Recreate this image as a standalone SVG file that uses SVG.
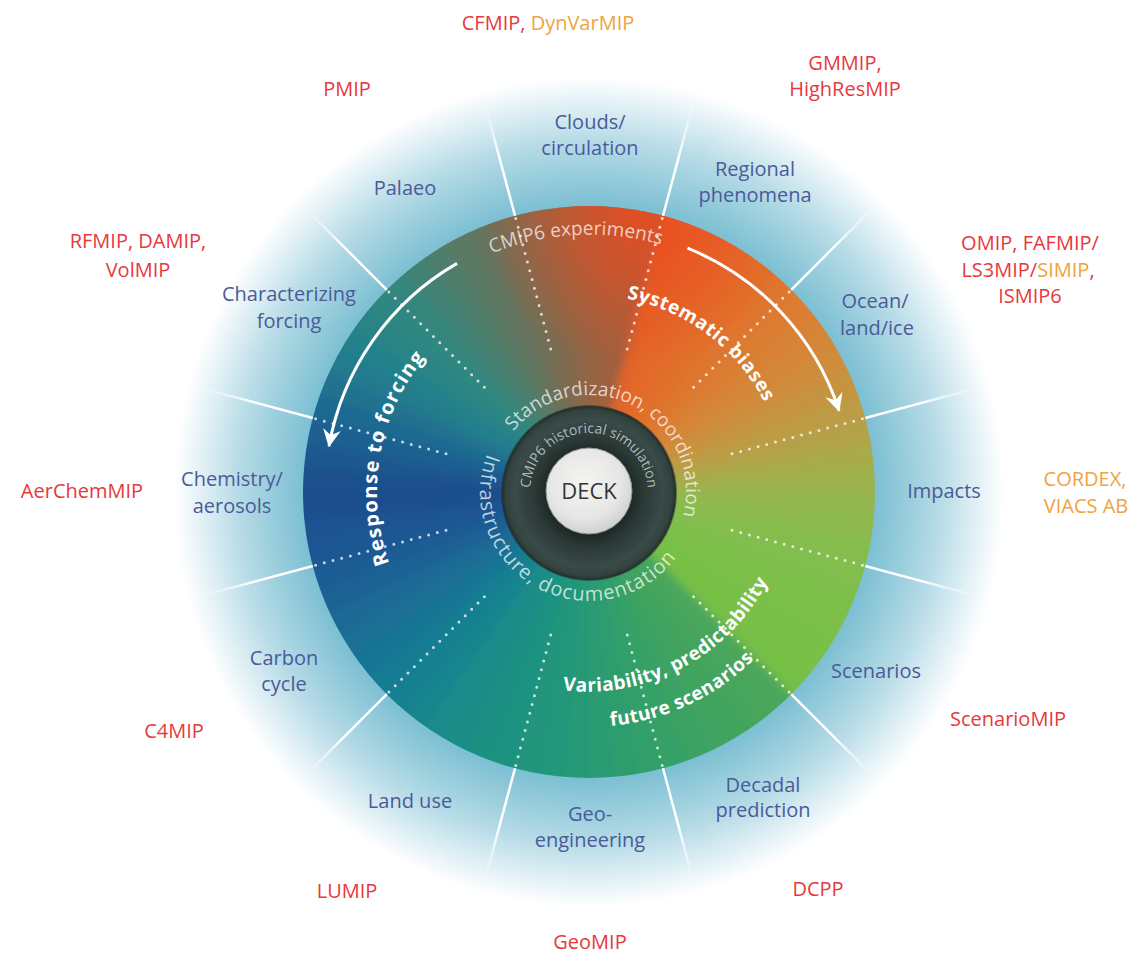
<svg xmlns="http://www.w3.org/2000/svg" width="1139" height="962" viewBox="0 0 1139 962">
<style>
text{font-family:"Open Sans","Liberation Sans",sans-serif}
.lbl{font-size:20px;fill:#4b5a99;text-anchor:middle}
.mip{font-size:20px;fill:#e8383d;text-anchor:middle}
.org{fill:#f0a340}
.big{font-size:19px;font-weight:700;fill:#ffffff}
.inner{font-size:19px;fill:#ffffff;fill-opacity:0.72}
.div{stroke:#ffffff;stroke-width:2.5;fill:none}
.dot{stroke:#ffffff;stroke-opacity:0.75;stroke-width:3;stroke-dasharray:0 9;stroke-linecap:round;fill:none}
.arr{stroke:#ffffff;stroke-width:3;fill:none;marker-end:url(#ah)}
</style>
<defs>
<radialGradient id="ring" gradientUnits="userSpaceOnUse" cx="589" cy="492" r="430">
<stop offset="0" stop-color="#7cbfd3"/>
<stop offset="0.665" stop-color="#7cbfd3"/>
<stop offset="0.74" stop-color="#98cddc"/>
<stop offset="0.82" stop-color="#b8dce7"/>
<stop offset="0.88" stop-color="#d6ebf2"/>
<stop offset="0.93" stop-color="#eef7fa"/>
<stop offset="0.965" stop-color="#ffffff"/>
<stop offset="1" stop-color="#ffffff"/>
</radialGradient>
<radialGradient id="fadeg" gradientUnits="userSpaceOnUse" cx="589" cy="492" r="430">
<stop offset="0" stop-color="#ffffff"/>
<stop offset="0.8" stop-color="#ffffff"/>
<stop offset="0.95" stop-color="#000000"/>
<stop offset="1" stop-color="#000000"/>
</radialGradient>
<mask id="fade" maskUnits="userSpaceOnUse" x="0" y="0" width="1139" height="962">
<rect width="1139" height="962" fill="url(#fadeg)"/>
</mask>
<radialGradient id="glow" gradientUnits="userSpaceOnUse" cx="640" cy="208" r="160">
<stop offset="0" stop-color="#ee4a1e" stop-opacity="0.85"/>
<stop offset="0.5" stop-color="#ee4a1e" stop-opacity="0.45"/>
<stop offset="1" stop-color="#ee4a1e" stop-opacity="0"/>
</radialGradient>
<radialGradient id="dark" cx="0.5" cy="0.5" r="0.5">
<stop offset="0" stop-color="#1a2624"/>
<stop offset="0.48" stop-color="#1c2826"/>
<stop offset="0.62" stop-color="#2a3836"/>
<stop offset="0.85" stop-color="#3a4a48"/>
<stop offset="0.95" stop-color="#33433f"/>
<stop offset="1" stop-color="#25322e"/>
</radialGradient>
<radialGradient id="deck" cx="0.45" cy="0.4" r="0.6">
<stop offset="0" stop-color="#f4f4f2"/>
<stop offset="0.7" stop-color="#e6e7e5"/>
<stop offset="1" stop-color="#cfd2d0"/>
</radialGradient>
<filter id="soft" x="150" y="50" width="880" height="880" filterUnits="userSpaceOnUse">
<feGaussianBlur stdDeviation="5"/>
</filter>
<clipPath id="discclip"><circle cx="589" cy="492" r="286"/></clipPath>
<path id="w" d="M0 0 L0 -300 A300 300 0 0 1 29.3 -298.6 Z"/>
<marker id="ah" markerUnits="userSpaceOnUse" viewBox="-18 -10 20 20" refX="0" refY="0" markerWidth="20" markerHeight="20" orient="auto">
<path d="M1 0 L-17 -9 L-11 0 L-17 9 Z" fill="#ffffff"/>
</marker>
<path id="pCmip" d="M327.4 505.7 A262 262 0 0 1 850.6 478.3"/>
<path id="pSys" d="M431.7 373.4 A197 197 0 0 1 746.3 610.6"/>
<path id="pResp" d="M552.2 700.8 A212 212 0 0 1 625.8 283.2"/>
<path id="pVar" d="M409.8 587.3 A203 203 0 0 0 768.2 396.7"/>
<path id="pFut" d="M376 591.3 A235 235 0 0 0 802 392.7"/>
<path id="pStd" d="M502.2 448.7 A97 97 0 0 1 675.8 535.3"/>
<path id="pInf" d="M493.2 440 A109 109 0 0 0 684.8 544"/>
<path id="pHist" d="M589 551 A59 59 0 0 1 589 433 A59 59 0 0 1 589 551"/>
</defs>

<rect width="1139" height="962" fill="#ffffff"/>
<circle id="outer-ring" cx="589" cy="492" r="430" fill="url(#ring)"/>

<g id="disc" clip-path="url(#discclip)">
<g filter="url(#soft)">
<circle cx="589" cy="492" r="300" fill="#2a9a74"/>
<g transform="translate(589 492)">
<use href="#w" transform="rotate(0)" fill="#976343"/>
<use href="#w" transform="rotate(5)" fill="#9c6240"/>
<use href="#w" transform="rotate(10)" fill="#a1613d"/>
<use href="#w" transform="rotate(15)" fill="#e26428"/>
<use href="#w" transform="rotate(20)" fill="#e26729"/>
<use href="#w" transform="rotate(25)" fill="#e26a2a"/>
<use href="#w" transform="rotate(30)" fill="#e16e2b"/>
<use href="#w" transform="rotate(35)" fill="#e0722c"/>
<use href="#w" transform="rotate(40)" fill="#df762d"/>
<use href="#w" transform="rotate(45)" fill="#dc7b30"/>
<use href="#w" transform="rotate(50)" fill="#d88134"/>
<use href="#w" transform="rotate(55)" fill="#d48738"/>
<use href="#w" transform="rotate(60)" fill="#ce8d3c"/>
<use href="#w" transform="rotate(65)" fill="#c69440"/>
<use href="#w" transform="rotate(70)" fill="#be9b44"/>
<use href="#w" transform="rotate(75)" fill="#b4a248"/>
<use href="#w" transform="rotate(80)" fill="#a8aa4b"/>
<use href="#w" transform="rotate(85)" fill="#9cb24e"/>
<use href="#w" transform="rotate(90)" fill="#93b750"/>
<use href="#w" transform="rotate(95)" fill="#8cba4f"/>
<use href="#w" transform="rotate(100)" fill="#85bd4e"/>
<use href="#w" transform="rotate(105)" fill="#81be4d"/>
<use href="#w" transform="rotate(110)" fill="#7ebf4b"/>
<use href="#w" transform="rotate(115)" fill="#7bc049"/>
<use href="#w" transform="rotate(120)" fill="#79c048"/>
<use href="#w" transform="rotate(125)" fill="#78c047"/>
<use href="#w" transform="rotate(130)" fill="#77c046"/>
<use href="#w" transform="rotate(135)" fill="#49a65b"/>
<use href="#w" transform="rotate(140)" fill="#46a55c"/>
<use href="#w" transform="rotate(145)" fill="#43a45d"/>
<use href="#w" transform="rotate(150)" fill="#40a360"/>
<use href="#w" transform="rotate(155)" fill="#3ba263"/>
<use href="#w" transform="rotate(160)" fill="#36a166"/>
<use href="#w" transform="rotate(165)" fill="#329f6a"/>
<use href="#w" transform="rotate(170)" fill="#2e9d6e"/>
<use href="#w" transform="rotate(175)" fill="#2a9b72"/>
<use href="#w" transform="rotate(180)" fill="#269976"/>
<use href="#w" transform="rotate(185)" fill="#239779"/>
<use href="#w" transform="rotate(190)" fill="#20957c"/>
<use href="#w" transform="rotate(195)" fill="#1d9380"/>
<use href="#w" transform="rotate(200)" fill="#1c9083"/>
<use href="#w" transform="rotate(205)" fill="#1b8d86"/>
<use href="#w" transform="rotate(210)" fill="#1a8a8a"/>
<use href="#w" transform="rotate(215)" fill="#19858d"/>
<use href="#w" transform="rotate(220)" fill="#188090"/>
<use href="#w" transform="rotate(225)" fill="#187b93"/>
<use href="#w" transform="rotate(230)" fill="#197594"/>
<use href="#w" transform="rotate(235)" fill="#1a6f95"/>
<use href="#w" transform="rotate(240)" fill="#1a6996"/>
<use href="#w" transform="rotate(245)" fill="#1b6295"/>
<use href="#w" transform="rotate(250)" fill="#1c5b94"/>
<use href="#w" transform="rotate(255)" fill="#1c5693"/>
<use href="#w" transform="rotate(260)" fill="#1d5290"/>
<use href="#w" transform="rotate(265)" fill="#1e4e8d"/>
<use href="#w" transform="rotate(270)" fill="#1e508d"/>
<use href="#w" transform="rotate(275)" fill="#1e588f"/>
<use href="#w" transform="rotate(280)" fill="#1e6091"/>
<use href="#w" transform="rotate(285)" fill="#1f6991"/>
<use href="#w" transform="rotate(290)" fill="#20728f"/>
<use href="#w" transform="rotate(295)" fill="#217b8d"/>
<use href="#w" transform="rotate(300)" fill="#24818a"/>
<use href="#w" transform="rotate(305)" fill="#298486"/>
<use href="#w" transform="rotate(310)" fill="#2e8782"/>
<use href="#w" transform="rotate(315)" fill="#36867c"/>
<use href="#w" transform="rotate(320)" fill="#428274"/>
<use href="#w" transform="rotate(325)" fill="#4e7e6c"/>
<use href="#w" transform="rotate(330)" fill="#5a7a65"/>
<use href="#w" transform="rotate(335)" fill="#65755e"/>
<use href="#w" transform="rotate(340)" fill="#707057"/>
<use href="#w" transform="rotate(345)" fill="#7b6c51"/>
<use href="#w" transform="rotate(350)" fill="#85694c"/>
<use href="#w" transform="rotate(355)" fill="#8f6647"/>
</g>
</g>
<circle cx="640" cy="208" r="160" fill="url(#glow)"/>
</g>

<g id="connectors">
<g mask="url(#fade)">
<line class="div" x1="663" y1="215.8" x2="696.4" y2="91.1"/>
<line class="div" x1="791.2" y1="289.8" x2="882.4" y2="198.6"/>
<line class="div" x1="865.2" y1="418" x2="989.9" y2="384.6"/>
<line class="div" x1="865.2" y1="566" x2="989.9" y2="599.4"/>
<line class="div" x1="791.2" y1="694.2" x2="882.4" y2="785.4"/>
<line class="div" x1="663" y1="768.2" x2="696.4" y2="892.9"/>
<line class="div" x1="515" y1="768.2" x2="481.6" y2="892.9"/>
<line class="div" x1="386.8" y1="694.2" x2="295.6" y2="785.4"/>
<line class="div" x1="312.8" y1="566" x2="188.1" y2="599.4"/>
<line class="div" x1="312.8" y1="418" x2="188.1" y2="384.6"/>
<line class="div" x1="386.8" y1="289.8" x2="295.6" y2="198.6"/>
<line class="div" x1="515" y1="215.8" x2="481.6" y2="91.1"/>
</g>
<line class="dot" x1="662.2" y1="218.6" x2="625.2" y2="356.8"/>
<line class="dot" x1="789.1" y1="291.9" x2="688" y2="393"/>
<line class="dot" x1="862.4" y1="418.8" x2="724.2" y2="455.8"/>
<line class="dot" x1="862.4" y1="565.2" x2="724.2" y2="528.2"/>
<line class="dot" x1="789.1" y1="692.1" x2="688" y2="591"/>
<line class="dot" x1="662.2" y1="765.4" x2="625.2" y2="627.2"/>
<line class="dot" x1="515.8" y1="765.4" x2="552.8" y2="627.2"/>
<line class="dot" x1="388.9" y1="692.1" x2="490" y2="591"/>
<line class="dot" x1="315.6" y1="565.2" x2="453.8" y2="528.2"/>
<line class="dot" x1="315.6" y1="418.8" x2="453.8" y2="455.8"/>
<line class="dot" x1="388.9" y1="291.9" x2="490" y2="393"/>
<line class="dot" x1="515.8" y1="218.6" x2="552.8" y2="356.8"/>
<path class="arr" d="M687.5 248.1 A263 263 0 0 1 839.1 410.7"/>
<path class="arr" d="M457 263.4 A264 264 0 0 0 329 446.2"/>
</g>

<g id="ring-texts">
<text class="inner"><textPath href="#pCmip" startOffset="50%" text-anchor="middle">CMIP6 experiments</textPath></text>
<text class="big" letter-spacing="0.6"><textPath href="#pSys" startOffset="50%" text-anchor="middle">Systematic biases</textPath></text>
<text class="big" style="font-size:20px" letter-spacing="1.2"><textPath href="#pResp" startOffset="50%" text-anchor="middle">Response to forcing</textPath></text>
<text class="big" letter-spacing="0.4"><textPath href="#pVar" startOffset="50%" text-anchor="middle">Variability, predictability</textPath></text>
<text class="big" letter-spacing="0.4"><textPath href="#pFut" startOffset="50%" text-anchor="middle">future scenarios</textPath></text>
<text class="inner"><textPath href="#pStd" startOffset="50%" text-anchor="middle">Standardization, coordination</textPath></text>
<text class="inner" style="font-size:20px" letter-spacing="1"><textPath href="#pInf" startOffset="50%" text-anchor="middle">Infrastructure, documentation</textPath></text>
</g>

<g id="node-deck">
<circle cx="589" cy="493" r="87" fill="url(#dark)" stroke="#1e2a27" stroke-opacity="0.5" stroke-width="2"/>
<text style="font-size:14px;fill:#c9d2ce;fill-opacity:0.85"><textPath href="#pHist" startOffset="50%" text-anchor="middle">CMIP6 historical simulation</textPath></text>
<circle cx="589" cy="491" r="43" fill="url(#deck)" stroke="#8e9693" stroke-width="1"/>
<text x="589" y="499" style="font-size:22px;fill:#333333;text-anchor:middle">DECK</text>
</g>

<g id="node-clouds">
<text class="lbl" x="590" y="129">Clouds/</text>
<text class="lbl" x="590" y="155">circulation</text>
<text class="mip" x="548" y="30"><tspan>CFMIP, </tspan><tspan class="org">DynVarMIP</tspan></text>
</g>
<g id="node-regional">
<text class="lbl" x="755" y="176">Regional</text>
<text class="lbl" x="755" y="202">phenomena</text>
<text class="mip" x="845" y="70">GMMIP,</text>
<text class="mip" x="845" y="96">HighResMIP</text>
</g>
<g id="node-ocean">
<text class="lbl" x="875" y="308">Ocean/</text>
<text class="lbl" x="877" y="335">land/ice</text>
<text class="mip" x="1030" y="250">OMIP, FAFMIP/</text>
<text class="mip" x="1028" y="277"><tspan>LS3MIP/</tspan><tspan class="org">SIMIP</tspan><tspan>,</tspan></text>
<text class="mip" x="1030" y="303">ISMIP6</text>
</g>
<g id="node-impacts">
<text class="lbl" x="944" y="498">Impacts</text>
<text class="mip org" x="1085" y="486">CORDEX,</text>
<text class="mip org" x="1086" y="513">VIACS AB</text>
</g>
<g id="node-scenarios">
<text class="lbl" x="876" y="678">Scenarios</text>
<text class="mip" x="1008" y="726">ScenarioMIP</text>
</g>
<g id="node-decadal">
<text class="lbl" x="763" y="792">Decadal</text>
<text class="lbl" x="763" y="817">prediction</text>
<text class="mip" x="818" y="896">DCPP</text>
</g>
<g id="node-geo">
<text class="lbl" x="590" y="821">Geo-</text>
<text class="lbl" x="590" y="847">engineering</text>
<text class="mip" x="590" y="949">GeoMIP</text>
</g>
<g id="node-landuse">
<text class="lbl" x="410" y="808">Land use</text>
<text class="mip" x="347" y="898">LUMIP</text>
</g>
<g id="node-carbon">
<text class="lbl" x="284" y="665">Carbon</text>
<text class="lbl" x="284" y="691">cycle</text>
<text class="mip" x="174" y="738">C4MIP</text>
</g>
<g id="node-chemistry">
<text class="lbl" x="232" y="486">Chemistry/</text>
<text class="lbl" x="232" y="513">aerosols</text>
<text class="mip" x="82" y="498">AerChemMIP</text>
</g>
<g id="node-forcing">
<text class="lbl" x="289" y="301">Characterizing</text>
<text class="lbl" x="289" y="328">forcing</text>
<text class="mip" x="138" y="248">RFMIP, DAMIP,</text>
<text class="mip" x="138" y="277">VolMIP</text>
</g>
<g id="node-palaeo">
<text class="lbl" x="405" y="195">Palaeo</text>
<text class="mip" x="347" y="96">PMIP</text>
</g>
</svg>
